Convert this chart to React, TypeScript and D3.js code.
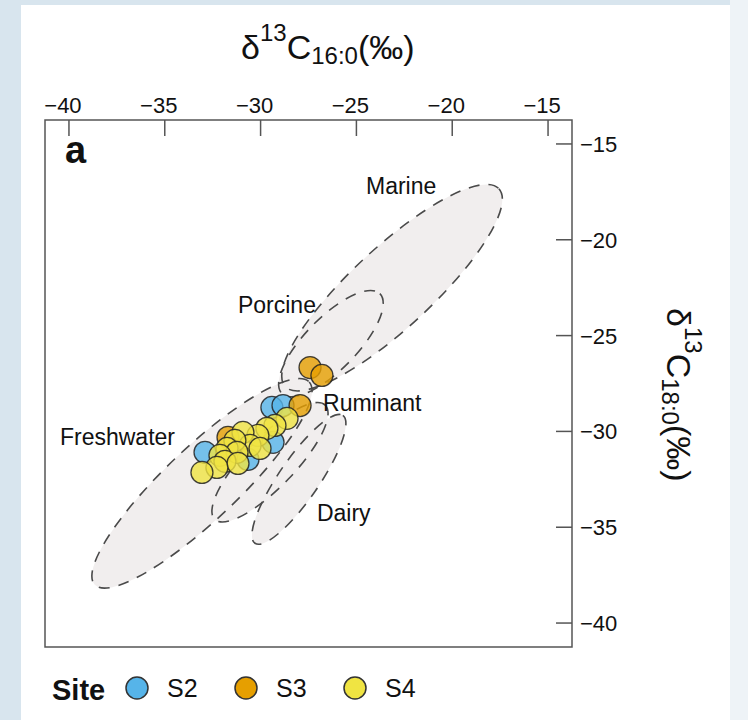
import * as d3 from "d3";
import React from "react";

// axis ticks
const xTicks = [-40, -35, -30, -25, -20, -15];
const yTicks = [-15, -20, -25, -30, -35, -40];

// sites
const sites = ["S2", "S3", "S4"];
const siteColors = ["#56B4E9", "#E69F00", "#F0E442"];

// points (d13C16:0, d13C18:0)
const s2X = [-29.41, -28.83, -32.9, -29.35, -30.66];
const s2Y = [-28.75, -28.65, -31.09, -30.57, -31.46];
const s3X = [-27.42, -26.8, -27.94, -31.7];
const s3Y = [-26.67, -27.08, -28.65, -30.31];
const s4X = [-28.62, -29.25, -29.67, -30.14, -30.92, -30.55, -30.03, -31.34, -31.75, -31.23, -32.12, -31.86, -31.18, -32.28, -33.06];
const s4Y = [-29.32, -29.69, -29.84, -30.21, -30.05, -30.73, -30.89, -30.47, -30.89, -31.09, -31.25, -31.56, -31.67, -31.88, -32.14];

// reference ellipses (data units, angle in degrees)
const groups = ["Marine", "Porcine", "Freshwater", "Ruminant", "Dairy"];
const groupCx = [-23.14, -26.33, -33.06, -29.51, -28.0];
const groupCy = [-22.5, -25.42, -32.71, -31.61, -32.5];
const groupA = [7.6, 3.65, 7.7, 4.15, 4.05];
const groupB = [2.1, 1.35, 1.9, 1.3, 1.05];
const groupAngle = [42.8, 45.6, 43.4, 46, 55.5];
const labelX = [-24.5, -31.18, -40.47, -26.74, -27.06];
const labelY = [-17.6, -23.8, -30.73, -28.96, -34.69];

const font = "'Liberation Sans', Arial, Helvetica, sans-serif";

export default function App() {
  const x = d3.scaleLinear().domain([-41.25, -13.75]).range([45, 572]);
  const y = d3.scaleLinear().domain([-41.25, -13.75]).range([647, 120]);
  const unit = x(1) - x(0);

  const series = [
    d3.zip(s2X, s2Y),
    d3.zip(s3X, s3Y),
    d3.zip(s4X, s4Y),
  ];

  return (
    <svg
      width={748}
      height={720}
      style={{ position: "absolute", left: 0, top: 0, display: "block" }}
      fontFamily={font}
    >
      <rect width={748} height={720} fill="#d8e5ee" />
      <rect x={730} y={0} width={18} height={720} fill="#eef3f7" />
      <rect x={21} y={5} width={709} height={715} fill="#ffffff" />

      {/* ellipse fills */}
      {groups.map((g, i) => (
        <ellipse
          key={"f" + g}
          cx={x(groupCx[i])}
          cy={y(groupCy[i])}
          rx={groupA[i] * unit}
          ry={groupB[i] * unit}
          transform={`rotate(${-groupAngle[i]},${x(groupCx[i])},${y(groupCy[i])})`}
          fill="#f1eeee"
        />
      ))}
      {groups.map((g, i) => (
        <ellipse
          key={"s" + g}
          cx={x(groupCx[i])}
          cy={y(groupCy[i])}
          rx={groupA[i] * unit}
          ry={groupB[i] * unit}
          transform={`rotate(${-groupAngle[i]},${x(groupCx[i])},${y(groupCy[i])})`}
          fill="none"
          stroke="#4a4a4a"
          strokeWidth={1.6}
          strokeDasharray="11 9"
        />
      ))}

      {groups.map((g, i) => (
        <text key={"l" + g} x={x(labelX[i])} y={y(labelY[i])} fontSize={23} fill="#111">
          {g}
        </text>
      ))}

      {/* points */}
      {series.map((pts, si) =>
        pts.map((p, j) => (
          <circle
            key={si + "-" + j}
            cx={x(p[0])}
            cy={y(p[1])}
            r={11}
            fill={siteColors[si]}
            fillOpacity={0.8}
            stroke="#222"
            strokeOpacity={0.85}
            strokeWidth={1.3}
          />
        ))
      )}

      {/* frame */}
      <rect x={45} y={120} width={527} height={527} fill="none" stroke="#555" strokeWidth={1.5} />

      {/* top axis */}
      {xTicks.map((t) => (
        <g key={"x" + t}>
          <line x1={x(t)} x2={x(t)} y1={120} y2={136} stroke="#555" strokeWidth={1.5} />
          <text x={x(t)} dx={-6} y={113} textAnchor="middle" fontSize={22} fill="#111">
            {"\u2212" + Math.abs(t)}
          </text>
        </g>
      ))}

      {/* right axis */}
      {yTicks.map((t) => (
        <g key={"y" + t}>
          <line x1={556} x2={572} y1={y(t)} y2={y(t)} stroke="#555" strokeWidth={1.5} />
          <text x={580} y={y(t)} dy="0.36em" fontSize={22} fill="#111">
            {"\u2212" + Math.abs(t)}
          </text>
        </g>
      ))}

      {/* top title */}
      <text x={241} y={59} fontSize={34} fill="#111">
        <tspan>δ</tspan>
        <tspan fontSize={24} dy={-18}>13</tspan>
        <tspan dy={18}>C</tspan>
        <tspan fontSize={24} dy={5}>16:0</tspan>
        <tspan dy={-5}>(‰)</tspan>
      </text>

      {/* right title */}
      <g transform="translate(667,308) rotate(90)">
        <text x={0} y={0} fontSize={34} fill="#111">
          <tspan>δ</tspan>
          <tspan fontSize={24} dy={-18}>13</tspan>
          <tspan dy={18}>C</tspan>
          <tspan fontSize={24} dy={5}>18:0</tspan>
          <tspan dy={-5}>(‰)</tspan>
        </text>
      </g>

      {/* panel label */}
      <text x={65} y={163} fontSize={38} fontWeight="bold" fill="#111">
        a
      </text>

      {/* legend */}
      <text x={52} y={700} fontSize={29} fontWeight="bold" fill="#111">
        Site
      </text>
      {sites.map((s, i) => {
        const cx = [137, 246, 355][i];
        return (
          <g key={s}>
            <circle cx={cx} cy={688} r={11} fill={siteColors[i]} stroke="#333" strokeWidth={1.5} />
            <text x={cx + 30} y={697} fontSize={25} fill="#111">
              {s}
            </text>
          </g>
        );
      })}
    </svg>
  );
}
